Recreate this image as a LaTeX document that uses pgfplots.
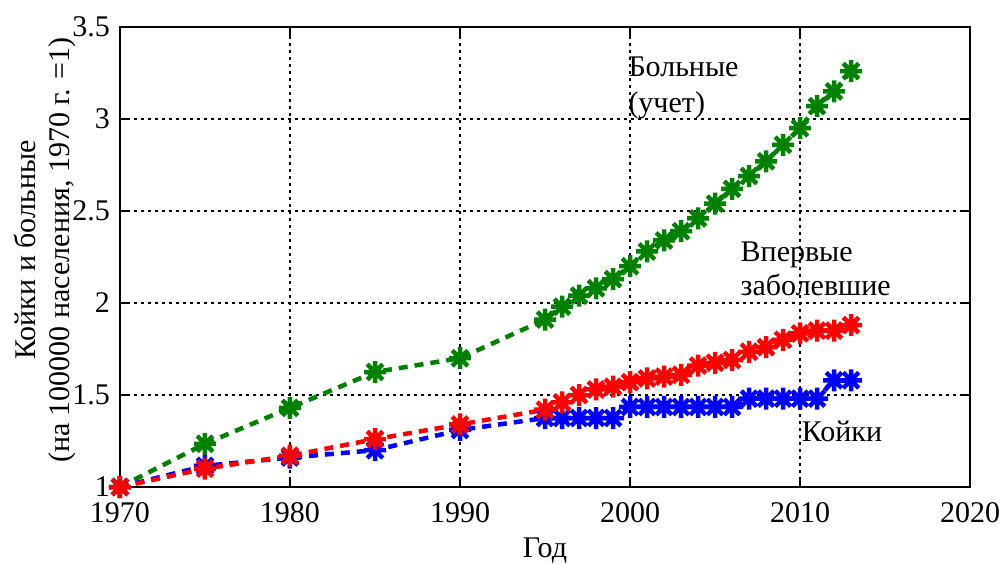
\documentclass[border=0pt]{standalone}
\usepackage{fontspec}
\setmainfont{Liberation Serif}
\usepackage{pgfplots}
\pgfplotsset{compat=1.18}
\definecolor{mgreen}{rgb}{0,0.5,0}
\pgfdeclareplotmark{mstar}{%
 \pgfpathmoveto{\pgfqpoint{-\pgfplotmarksize}{0pt}}\pgfpathlineto{\pgfqpoint{\pgfplotmarksize}{0pt}}%
 \pgfpathmoveto{\pgfqpoint{0pt}{-\pgfplotmarksize}}\pgfpathlineto{\pgfqpoint{0pt}{\pgfplotmarksize}}%
 \pgfpathmoveto{\pgfqpoint{-.7071\pgfplotmarksize}{-.7071\pgfplotmarksize}}\pgfpathlineto{\pgfqpoint{.7071\pgfplotmarksize}{.7071\pgfplotmarksize}}%
 \pgfpathmoveto{\pgfqpoint{-.7071\pgfplotmarksize}{.7071\pgfplotmarksize}}\pgfpathlineto{\pgfqpoint{.7071\pgfplotmarksize}{-.7071\pgfplotmarksize}}%
 \pgfusepathqstroke}
\begin{document}
\fontsize{30}{34}\selectfont
\begin{tikzpicture}
\path[use as bounding box] (-120pt,-76pt) rectangle (887pt,487pt);
\begin{axis}[
 at={(0,0)}, anchor=south west,
 scale only axis, width=850pt, height=460pt,
 xmin=1970, xmax=2020, ymin=1, ymax=3.5,
 xtick={1970,1980,...,2020}, ytick={1,1.5,2,2.5,3,3.5},
 /pgf/number format/assume math mode=true,
 /pgf/number format/1000 sep={},
 tick label style={font=\fontsize{30}{34}\selectfont},
 xticklabel style={yshift=-5pt},
 label style={font=\fontsize{30}{34}\selectfont},
 tick align=inside, major tick length=9pt,
 tick style={black, line width=1.2pt},
 axis line style={black, line width=1.5pt},
 grid=major,
 major grid style={black, line width=1.2pt, dash pattern=on 3pt off 4pt},
 clip=false,
 xlabel={Год},
 xlabel style={at={(axis description cs:0.5,0)}, anchor=base, yshift=-70pt},
 ylabel={Койки и больные\\(на 100000 населения, 1970 г. =1)},
 ylabel style={align=center, at={(axis description cs:0,0.5)}, anchor=center, xshift=7pt, yshift=75pt},
 every axis plot/.append style={line width=4.5pt, dash pattern=on 9pt off 7pt, mark=mstar, mark size=11pt, mark options={solid, line width=4.5pt}},
]
\addplot[mgreen] coordinates {(1970,1)(1975,1.235)(1980,1.43)(1985,1.625)(1990,1.70)(1995,1.91)(1996,1.98)(1997,2.04)(1998,2.08)(1999,2.13)(2000,2.20)(2001,2.28)(2002,2.34)(2003,2.39)(2004,2.46)(2005,2.54)(2006,2.62)(2007,2.69)(2008,2.77)(2009,2.86)(2010,2.95)(2011,3.07)(2012,3.15)(2013,3.26)};
\addplot[blue] coordinates {(1970,1)(1975,1.115)(1980,1.16)(1985,1.20)(1990,1.31)(1995,1.375)(1996,1.375)(1997,1.375)(1998,1.375)(1999,1.375)(2000,1.435)(2001,1.435)(2002,1.435)(2003,1.435)(2004,1.435)(2005,1.435)(2006,1.435)(2007,1.48)(2008,1.48)(2009,1.48)(2010,1.48)(2011,1.48)(2012,1.58)(2013,1.58)};
\addplot[red] coordinates {(1970,1)(1975,1.10)(1980,1.17)(1985,1.26)(1990,1.34)(1995,1.42)(1996,1.46)(1997,1.50)(1998,1.53)(1999,1.545)(2000,1.57)(2001,1.59)(2002,1.60)(2003,1.61)(2004,1.66)(2005,1.675)(2006,1.69)(2007,1.735)(2008,1.76)(2009,1.80)(2010,1.835)(2011,1.85)(2012,1.85)(2013,1.88)};
\node[anchor=base west, align=left, inner sep=0pt] at (axis cs:1999.9,3.033) {Больные\\[2pt](учет)};
\node[anchor=base west, align=left, inner sep=0pt] at (axis cs:2006.5,2.043) {Впервые\\заболевшие};
\node[anchor=base west, inner sep=0pt] at (axis cs:2010.1,1.246) {Койки};
\end{axis}
\end{tikzpicture}
\end{document}
